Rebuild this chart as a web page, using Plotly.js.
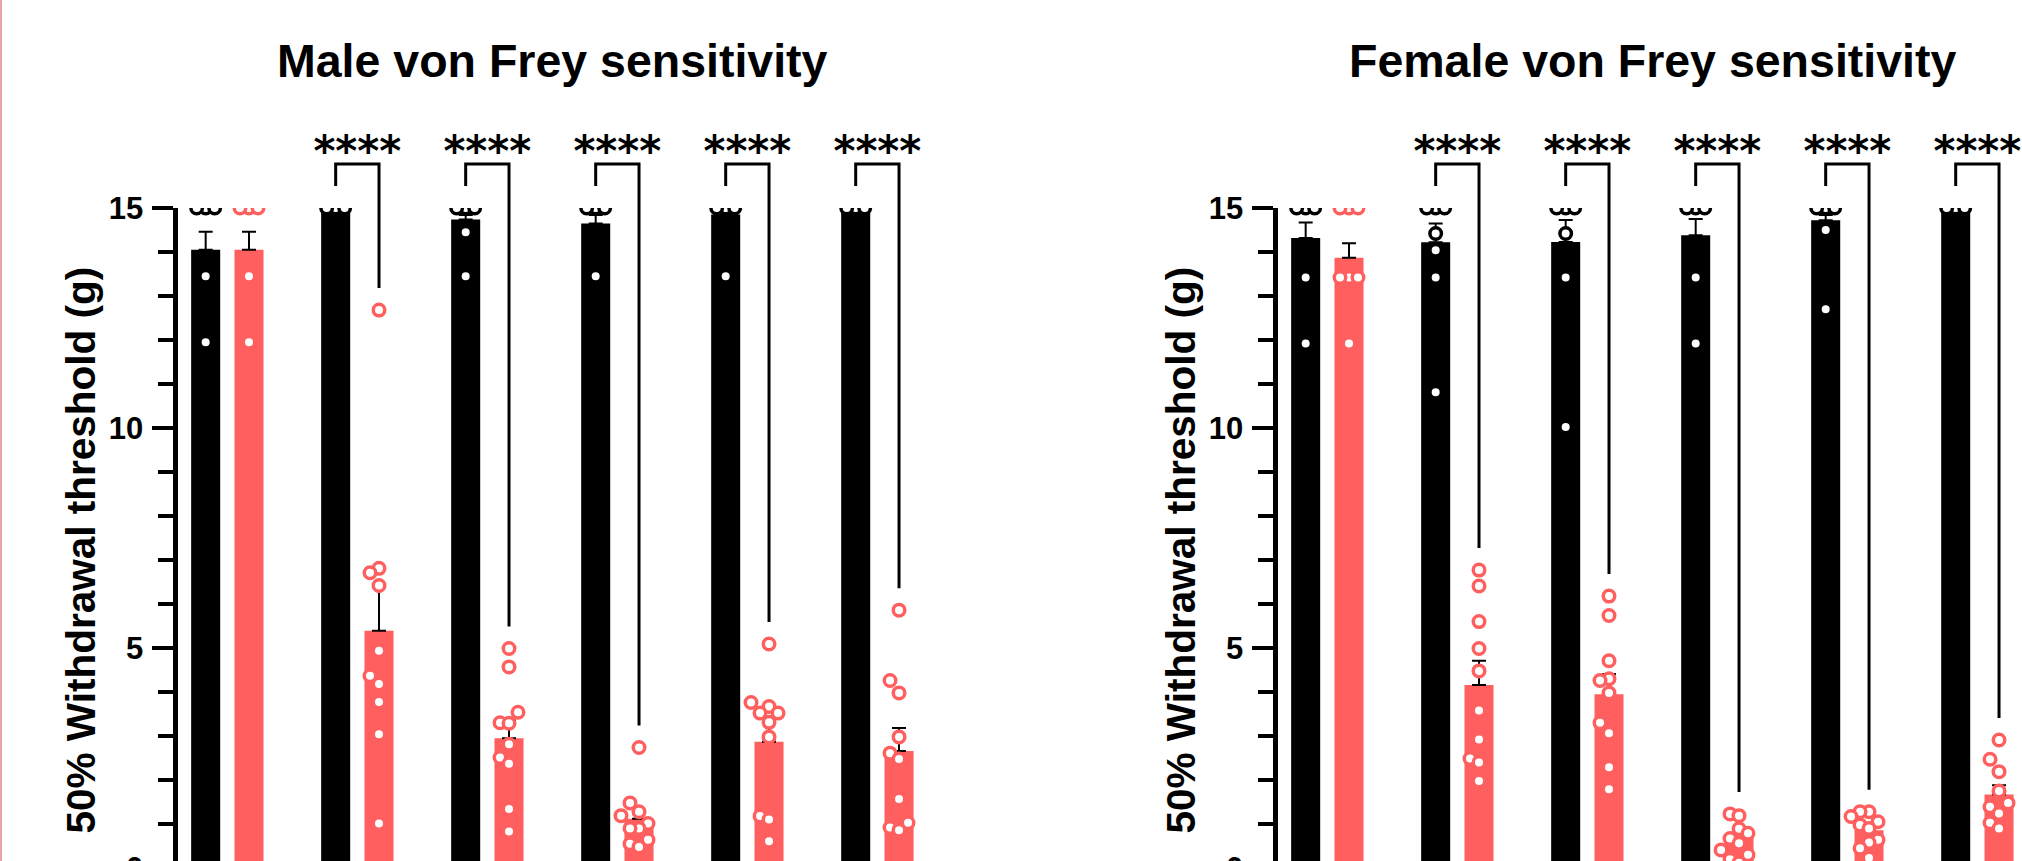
<!DOCTYPE html>
<html><head><meta charset="utf-8">
<script src="https://cdn.plot.ly/plotly-3.0.1.min.js"></script>
<style>html,body{margin:0;padding:0;overflow:hidden;background:#fff}#chart{width:2040px;height:900px}</style>
</head><body><div id="chart"></div><script>
// ---------------- data ----------------
const groupIdx = [0, 1, 2, 3, 4, 5];
const sigLabels = ['', '****', '****', '****', '****', '****'];
const yTickVals = [0, 5, 10, 15];
const yTickText = ['0', '5', '10', '15'];
const maleTitle = 'Male von Frey sensitivity';
const femaleTitle = 'Female von Frey sensitivity';
const yTitle = '50% Withdrawal threshold (g)';

const maleBlackMean = [14.05, 15, 14.74, 14.65, 14.85, 15];
const maleBlackSem  = [0.41, 0, 0.10, 0.19, 0.12, 0];
const maleRedMean   = [14.05, 5.39, 2.95, 1.12, 2.87, 2.66];
const maleRedSem    = [0.41, 0.99, 0.40, 0.20, 0.45, 0.52];

const maleBlackPts = [
  [15, 15, 15, 13.45, 11.95],
  [15, 15, 15],
  [15, 15, 15, 14.45, 13.45],
  [15, 15, 15, 13.45],
  [15, 15, 15, 13.45],
  [15, 15, 15]
];
const maleRedPts = [
  [15, 15, 15, 13.45, 11.95],
  [12.68, 6.81, 6.71, 6.42, 4.94, 4.37, 4.18, 3.77, 3.04, 1.01],
  [4.99, 4.57, 3.54, 3.30, 3.29, 2.81, 2.51, 2.37, 1.34, 0.83],
  [2.74, 1.48, 1.28, 1.19, 1.01, 0.90, 0.90, 0.64, 0.55, 0.48],
  [5.09, 3.76, 3.67, 3.52, 3.52, 3.31, 2.98, 1.18, 1.10, 0.61],
  [5.86, 4.26, 3.98, 2.98, 2.61, 2.48, 1.57, 1.03, 0.92, 0.86]
];

const femaleBlackMean = [14.32, 14.22, 14.23, 14.38, 14.72, 15];
const femaleBlackSem  = [0.35, 0.43, 0.50, 0.37, 0.12, 0];
const femaleRedMean   = [13.87, 4.16, 3.95, 0.72, 0.86, 1.67];
const femaleRedSem    = [0.33, 0.55, 0.46, 0.12, 0.11, 0.21];

const femaleBlackPts = [
  [15, 15, 15, 13.42, 11.92],
  [15, 15, 15, 14.42, 14.04, 13.42, 10.81],
  [15, 15, 15, 14.42, 13.42, 10.02],
  [15, 15, 15, 13.42, 11.92],
  [15, 15, 15, 14.50, 12.70],
  [15, 15, 15]
];
const femaleRedPts = [
  [15, 15, 15, 13.42, 13.42, 13.42, 11.92],
  [6.77, 6.41, 5.60, 4.99, 4.48, 3.58, 2.92, 2.49, 2.40, 1.98],
  [6.18, 5.74, 4.71, 4.30, 4.26, 3.98, 3.30, 3.06, 2.29, 1.79],
  [1.23, 1.19, 0.89, 0.79, 0.67, 0.56, 0.41, 0.30, 0.20, 0.12],
  [1.28, 1.28, 1.17, 1.05, 0.98, 0.90, 0.64, 0.58, 0.45, 0.23],
  [2.91, 2.47, 2.19, 1.75, 1.48, 1.39, 1.24, 1.03, 0.90]
];

// ---------------- geometry / style ----------------
const W = 2040, H = 900;
const PX_Y0 = 868, PX_Y15 = 208;
const unitY = (PX_Y0 - PX_Y15) / 15;
const d0 = (H - PX_Y0) / H, d15 = (H - PX_Y15) / H;
const yTop = 15 * PX_Y0 / (PX_Y0 - PX_Y15);
const XR = [-0.65, 16.65];
const domW = 749.7;
const unitX = domW / (XR[1] - XR[0]);
const maleDom = [177.5 / W, (177.5 + domW) / W];
const femDom = [1277.5 / W, (1277.5 + domW) / W];
const BLACK = '#000000', RED = '#ff5f5f';
const FONT = 'Liberation Sans, Arial, Helvetica, sans-serif';

// simple beeswarm (pixel based) so overlapping points spread sideways
function swarm(vals, center) {
  const step = 4.5, minDx = 8.5, minDy = 13;
  const order = vals.map((v, i) => i).sort((a, b) => vals[a] - vals[b]);
  const placed = [], xs = new Array(vals.length);
  for (const i of order) {
    const ypx = vals[i] * unitY;
    for (let k = 0; k < 80; k++) {
      const off = k === 0 ? 0 : (k % 2 ? -1 : 1) * Math.ceil(k / 2) * step;
      if (placed.every(p => Math.abs(p.x - off) >= minDx || Math.abs(p.y - ypx) >= minDy)) {
        placed.push({x: off, y: ypx}); xs[i] = center + off / unitX; break;
      }
    }
  }
  return xs;
}

function panel(xa, ya, yb, bMean, bSem, rMean, rSem, bPts, rPts) {
  const xb = groupIdx.map(g => g * 3), xr = groupIdx.map(g => g * 3 + 1);
  const tr = [];
  const err = (s) => ({type: 'data', symmetric: false, array: s, arrayminus: s.map(() => 0),
    color: BLACK, thickness: 2, width: 7});
  tr.push({type: 'bar', x: xb, y: bMean, xaxis: xa, yaxis: ya, width: 0.67,
    marker: {color: BLACK, line: {width: 0}}, error_y: err(bSem), hoverinfo: 'skip', showlegend: false});
  tr.push({type: 'bar', x: xr, y: rMean, xaxis: xa, yaxis: ya, width: 0.67,
    marker: {color: RED, line: {width: 0}}, error_y: err(rSem), hoverinfo: 'skip', showlegend: false});
  const pts = (P, xs, col) => {
    const X = [], Y = [];
    P.forEach((vals, g) => { const sx = swarm(vals, xs[g]); vals.forEach((v, i) => { X.push(sx[i]); Y.push(v); }); });
    return {type: 'scatter', mode: 'markers', x: X, y: Y, xaxis: xa, yaxis: ya,
      marker: {size: 11.5, color: '#ffffff', line: {color: col, width: 3.5}}, hoverinfo: 'skip', showlegend: false};
  };
  tr.push(pts(bPts, xb, BLACK));
  tr.push(pts(rPts, xr, RED));
  // significance brackets
  const LX = [], LY = [], TX = [], TY = [], TT = [];
  groupIdx.forEach(g => {
    if (!sigLabels[g]) return;
    const topB = Math.max(...bPts[g]) + 0.5, topR = Math.max(...rPts[g]) + 0.5;
    LX.push(xb[g], xb[g], xr[g], xr[g], null);
    LY.push(topB, 16.0, 16.0, topR, null);
    TX.push((xb[g] + xr[g]) / 2); TY.push(16.2); TT.push(sigLabels[g]);
  });
  tr.push({type: 'scatter', mode: 'lines', x: LX, y: LY, xaxis: xa, yaxis: yb,
    line: {color: BLACK, width: 3}, hoverinfo: 'skip', showlegend: false});
  tr.push({type: 'scatter', mode: 'text', x: TX, y: TY, text: TT, xaxis: xa, yaxis: yb,
    textposition: 'middle center', textfont: {family: 'DejaVu Sans, sans-serif', size: 42, color: BLACK, weight: 'bold'},
    hoverinfo: 'skip', showlegend: false, cliponaxis: false});
  return tr;
}

const data = [].concat(
  panel('x', 'y', 'y3', maleBlackMean, maleBlackSem, maleRedMean, maleRedSem, maleBlackPts, maleRedPts),
  panel('x2', 'y2', 'y4', femaleBlackMean, femaleBlackSem, femaleRedMean, femaleRedSem, femaleBlackPts, femaleRedPts)
);

function yAxis(anchor) {
  return {domain: [d0, d15], range: [0, 15], anchor: anchor, fixedrange: true,
    tickmode: 'array', tickvals: yTickVals, ticktext: yTickText,
    ticks: 'outside', ticklen: 21, tickwidth: 4.5, tickcolor: BLACK,
    minor: {tickmode: 'linear', tick0: 0, dtick: 1, ticks: 'outside', ticklen: 15, tickwidth: 4.5, tickcolor: BLACK, showgrid: false},
    showline: true, linewidth: 5, linecolor: BLACK, showgrid: false, zeroline: false,
    tickfont: {family: FONT, size: 31, color: BLACK, weight: 'bold'},
    ticklabelstandoff: 2};
}
function yOver(anchor) {
  return {domain: [d0, 1], range: [0, yTop], anchor: anchor, visible: false, fixedrange: true};
}
function xAxis(dom, anchor) {
  return {domain: dom, range: XR, anchor: anchor, visible: false, fixedrange: true};
}

const titleFont = {family: FONT, size: 46.5, color: BLACK, weight: 'bold'};
const yTitleFont = {family: FONT, size: 40.5, color: BLACK, weight: 'bold'};
const yTitleY = (H - 550) / H;
const yTitleX = -97 / domW;

const layout = {
  width: W, height: H, margin: {l: 0, r: 0, t: 0, b: 0, pad: 0},
  paper_bgcolor: '#ffffff', plot_bgcolor: 'rgba(0,0,0,0)',
  barmode: 'overlay', showlegend: false,
  font: {family: FONT, color: BLACK},
  xaxis: xAxis(maleDom, 'y'), xaxis2: xAxis(femDom, 'y2'),
  yaxis: yAxis('x'), yaxis2: yAxis('x2'),
  yaxis3: yOver('x'), yaxis4: yOver('x2'),
  annotations: [
    {text: maleTitle, xref: 'x domain', x: 0.5, yref: 'paper', y: (H - 61) / H, yanchor: 'middle', xanchor: 'center',
     showarrow: false, font: titleFont},
    {text: femaleTitle, xref: 'x2 domain', x: 0.5, yref: 'paper', y: (H - 61) / H, yanchor: 'middle', xanchor: 'center',
     showarrow: false, font: titleFont},
    {text: yTitle, xref: 'x domain', x: yTitleX, yref: 'paper', y: yTitleY, textangle: -90,
     xanchor: 'center', yanchor: 'middle', showarrow: false, font: yTitleFont},
    {text: yTitle, xref: 'x2 domain', x: yTitleX, yref: 'paper', y: yTitleY, textangle: -90,
     xanchor: 'center', yanchor: 'middle', showarrow: false, font: yTitleFont}
  ],
  shapes: [
    {type: 'line', xref: 'paper', yref: 'paper', x0: 1 / W, x1: 1 / W, y0: 0, y1: 1, line: {color: '#e8a4a9', width: 2}}
  ]
};

Plotly.newPlot('chart', data, layout, {staticPlot: true, displayModeBar: false});
</script></body></html>
